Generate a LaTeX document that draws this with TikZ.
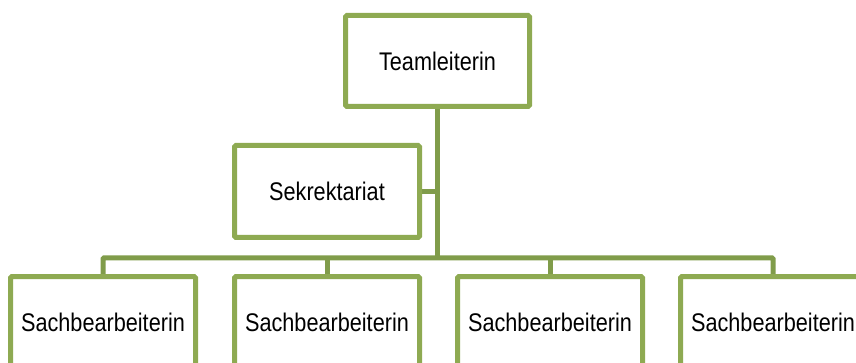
\documentclass[tikz,border=0pt]{standalone}
\usepackage{fontspec}
\usepackage{graphicx}
\setmainfont{Liberation Sans}
\usetikzlibrary{backgrounds}
\definecolor{boxgreen}{RGB}{142,170,82}
\definecolor{linegreen}{RGB}{128,156,74}
\tikzset{
  orgbox/.style={draw=boxgreen, line width=5pt, fill=white, rounded corners=1.5pt,
    minimum width=185pt, minimum height=91pt, inner sep=0pt,
    font=\fontsize{25.5}{30}\selectfont},
  conn/.style={draw=linegreen, line width=5pt, rounded corners=1pt}
}
\newcommand{\sq}[1]{\scalebox{0.85}[1]{#1}}
\begin{document}
\begin{tikzpicture}[x=1pt,y=-1pt]
\clip (0,0) rectangle (856,363);
\node[orgbox, minimum width=184pt] (top) at (437.5,61) {\sq{Teamleiterin}};
\node[orgbox, minimum height=92pt] (sek) at (327,191.5) {\sq{Sekrektariat}};
\node[orgbox] (s1) at (103,322) {\sq{Sachbearbeiterin}};
\node[orgbox] (s2) at (327,322) {\sq{Sachbearbeiterin}};
\node[orgbox] (s3) at (550,322) {\sq{Sachbearbeiterin}};
\node[orgbox] (s4) at (773,322) {\sq{Sachbearbeiterin}};
\coordinate (bus) at (437.5,258);
\begin{scope}[on background layer]
\draw[conn] (top.south) -- (bus);
\draw[conn] (sek.east) -- (sek.east -| bus);
\draw[conn] (s1.north) -- (s1.north |- bus) -- (s4.north |- bus) -- (s4.north);
\draw[conn] (s2.north) -- (s2.north |- bus);
\draw[conn] (s3.north) -- (s3.north |- bus);
\end{scope}
\end{tikzpicture}
\end{document}
